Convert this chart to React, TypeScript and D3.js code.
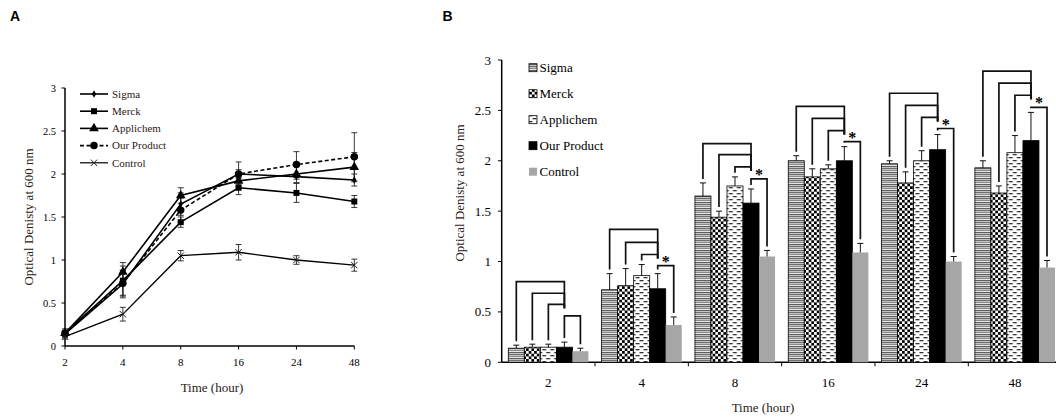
import React from "react";
import * as d3 from "d3";

// time points (hours) and series
const hours = ["2", "4", "8", "16", "24", "48"];
const seriesNames = ["Sigma", "Merck", "Applichem", "Our Product", "Control"];

// mean optical density at 600 nm
const sigma = [0.14, 0.72, 1.65, 2.0, 1.97, 1.93];
const merck = [0.15, 0.76, 1.44, 1.84, 1.78, 1.68];
const applichem = [0.15, 0.86, 1.75, 1.92, 2.0, 2.08];
const ourProduct = [0.15, 0.73, 1.58, 2.0, 2.11, 2.2];
const control = [0.11, 0.37, 1.05, 1.09, 1.0, 0.94];

// standard deviations
const sigmaSd = [0.03, 0.16, 0.13, 0.05, 0.03, 0.07];
const merckSd = [0.03, 0.17, 0.06, 0.08, 0.11, 0.07];
const applichemSd = [0.03, 0.11, 0.09, 0.04, 0.1, 0.17];
const ourProductSd = [0.05, 0.15, 0.14, 0.14, 0.15, 0.28];
const controlSd = [0.03, 0.08, 0.06, 0.09, 0.05, 0.07];

const yTicks = [0, 0.5, 1, 1.5, 2, 2.5, 3];

// significance bracket heights per time point (3 comparisons vs Our Product, then Our Product vs Control)
const bracketLevels = [
  [0.8, 0.685, 0.575, 0.46],
  [1.32, 1.19, 1.07, 0.96],
  [2.17, 2.06, 1.94, 1.82],
  [2.54, 2.42, 2.3, 2.19],
  [2.67, 2.55, 2.43, 2.32],
  [2.89, 2.77, 2.65, 2.53],
];
// Our Product vs Control marked significant (*)
const significant = [false, true, true, true, true, true];

const means = [sigma, merck, applichem, ourProduct, control];
const sds = [sigmaSd, merckSd, applichemSd, ourProductSd, controlSd];

const serif = "'Liberation Serif', 'Times New Roman', serif";
const sans = "'Liberation Sans', Arial, sans-serif";
const textDark = "#2a2016";

function Marker({ kind, x, y }) {
  if (kind === 4) {
    const s = 3.2;
    return (
      <path
        d={`M${x - s},${y - s}L${x + s},${y + s}M${x - s},${y + s}L${x + s},${y - s}`}
        stroke="#222"
        strokeWidth={1}
        fill="none"
      />
    );
  }
  const types = [d3.symbolDiamond, d3.symbolSquare, d3.symbolTriangle, d3.symbolCircle];
  const sizes = [16, 36, 40, 44];
  const p = d3.symbol().type(types[kind]).size(sizes[kind])();
  return <path d={p} transform={`translate(${x},${y})`} fill="#000" />;
}

function PanelA() {
  const x = d3.scalePoint().domain(hours).range([65, 354.3]);
  const y = d3.scaleLinear().domain([0, 3]).range([346, 88]);
  const line = d3
    .line<number>()
    .x((d, i) => x(hours[i]))
    .y((d) => y(d));

  return (
    <g>
      <text x={10} y={21} fontFamily={sans} fontWeight="bold" fontSize={14}>
        A
      </text>

      {/* axes */}
      <line x1={65} x2={65} y1={y(3)} y2={y(0)} stroke="#000" strokeWidth={1.5} />
      <line x1={65} x2={x("48")} y1={y(0)} y2={y(0)} stroke="#000" strokeWidth={1.5} />
      {yTicks.map((t) => (
        <g key={t}>
          <line x1={61.5} x2={65} y1={y(t)} y2={y(t)} stroke="#000" strokeWidth={1} />
          <text
            x={56}
            y={y(t)}
            dy="0.35em"
            textAnchor="end"
            fontFamily={serif}
            fontSize={10.5}
          >
            {t}
          </text>
        </g>
      ))}
      {hours.map((h) => (
        <g key={h}>
          <line x1={x(h)} x2={x(h)} y1={y(0)} y2={y(0) + 3.5} stroke="#000" strokeWidth={1} />
          <text x={x(h)} y={366} textAnchor="middle" fontFamily={serif} fontSize={11}>
            {h}
          </text>
        </g>
      ))}
      <text x={212} y={392} textAnchor="middle" fontFamily={serif} fontSize={13} fill={textDark}>
        Time (hour)
      </text>
      <text
        transform={`translate(28,217) rotate(-90)`}
        textAnchor="middle"
        dy="0.35em"
        fontFamily={serif}
        fontSize={13}
        fill={textDark}
      >
        Optical Denisty at 600 nm
      </text>

      {/* error bars */}
      {means.map((vals, s) =>
        vals.map((v, i) => {
          const cx = x(hours[i]);
          const sd = sds[s][i];
          return (
            <g key={`${s}-${i}`} stroke="#222" strokeWidth={0.9}>
              <line x1={cx} x2={cx} y1={y(v + sd)} y2={y(v - sd)} />
              <line x1={cx - 3} x2={cx + 3} y1={y(v + sd)} y2={y(v + sd)} />
              <line x1={cx - 3} x2={cx + 3} y1={y(v - sd)} y2={y(v - sd)} />
            </g>
          );
        })
      )}

      {/* series lines */}
      {means.map((vals, s) => (
        <path
          key={s}
          d={line(vals)}
          fill="none"
          stroke="#000"
          strokeWidth={s === 4 ? 1.3 : 1.6}
          strokeDasharray={s === 3 ? "4,2.5" : undefined}
        />
      ))}
      {means.map((vals, s) =>
        vals.map((v, i) => <Marker key={`${s}-${i}`} kind={s} x={x(hours[i])} y={y(v)} />)
      )}

      {/* legend */}
      {seriesNames.map((n, s) => {
        const ly = 94 + s * 17.2;
        return (
          <g key={n}>
            <line
              x1={80}
              x2={108}
              y1={ly}
              y2={ly}
              stroke="#000"
              strokeWidth={s === 4 ? 1.2 : 1.6}
              strokeDasharray={s === 3 ? "4,2.5" : undefined}
            />
            <Marker kind={s} x={94} y={ly} />
            <text x={112} y={ly} dy="0.35em" fontFamily={serif} fontSize={11} fill={textDark}>
              {n}
            </text>
          </g>
        );
      })}
    </g>
  );
}

function PanelB() {
  const x0 = d3.scaleBand().domain(hours).range([501.7, 1061.6]);
  const bw = x0.bandwidth();
  const x1 = d3.scaleBand().domain(seriesNames).range([6.6, bw - 6.6]);
  const y = d3.scaleLinear().domain([0, 3]).range([362.3, 60]);
  const fills = ["url(#pSigma)", "url(#pMerck)", "url(#pApplichem)", "#000", "#a6a6a6"];
  const gap = 0.04;

  return (
    <g>
      <defs>
        <pattern id="pSigma" patternUnits="userSpaceOnUse" width={16} height={6}>
          <rect width={16} height={6} fill="#c4c4c4" />
          <rect y={0} width={16} height={1} fill="#6e6e6e" />
          <rect y={2} width={16} height={1} fill="#8a8a8a" />
          <rect y={3} width={16} height={1} fill="#e6e6e6" />
          <rect y={4} width={16} height={1} fill="#5e5e5e" />
        </pattern>
        <pattern id="pMerck" patternUnits="userSpaceOnUse" width={5.4} height={5.4}>
          <rect width={5.4} height={5.4} fill="#fff" />
          <rect width={2.7} height={2.7} fill="#000" />
          <rect x={2.7} y={2.7} width={2.7} height={2.7} fill="#000" />
        </pattern>
        <pattern id="pApplichem" patternUnits="userSpaceOnUse" width={8} height={6}>
          <rect width={8} height={6} fill="#fff" />
          <rect x={0.5} y={1} width={4} height={1.3} fill="#333" />
          <rect x={4.5} y={4} width={4} height={1.3} fill="#333" />
          <rect x={-3.5} y={4} width={4} height={1.3} fill="#333" />
        </pattern>
      </defs>

      <text x={442.5} y={21} fontFamily={sans} fontWeight="bold" fontSize={14}>
        B
      </text>

      {/* axes */}
      <line x1={501.7} x2={501.7} y1={y(3)} y2={y(0)} stroke="#000" strokeWidth={1.5} />
      <line x1={501.7} x2={1061.6} y1={y(0)} y2={y(0)} stroke="#000" strokeWidth={1.5} />
      {yTicks.map((t) => (
        <g key={t}>
          <line x1={498} x2={501.7} y1={y(t)} y2={y(t)} stroke="#000" strokeWidth={1} />
          <text
            x={491}
            y={y(t)}
            dy="0.35em"
            textAnchor="end"
            fontFamily={serif}
            fontSize={13}
          >
            {t}
          </text>
        </g>
      ))}
      {hours.map((h) => (
        <g key={h}>
          <line
            x1={x0(h) + bw}
            x2={x0(h) + bw}
            y1={y(0)}
            y2={y(0) + 4}
            stroke="#000"
            strokeWidth={1}
          />
          <text
            x={x0(h) + bw / 2}
            y={387}
            textAnchor="middle"
            fontFamily={serif}
            fontSize={13}
          >
            {h}
          </text>
        </g>
      ))}
      <text x={763} y={412} textAnchor="middle" fontFamily={serif} fontSize={13} fill={textDark}>
        Time (hour)
      </text>
      <text
        transform={`translate(459,193) rotate(-90)`}
        textAnchor="middle"
        dy="0.35em"
        fontFamily={serif}
        fontSize={13}
        fill={textDark}
      >
        Optical Denisty at 600 nm
      </text>

      {/* bars */}
      {hours.map((h, i) => (
        <g key={h} transform={`translate(${x0(h)},0)`}>
          {seriesNames.map((n, s) => {
            const v = means[s][i];
            return (
              <rect
                key={n}
                x={x1(n)}
                y={y(v)}
                width={x1.bandwidth()}
                height={y(0) - y(v)}
                fill={fills[s]}
                stroke={s === 4 ? "none" : "#000"}
                strokeWidth={0.8}
              />
            );
          })}
          {seriesNames.map((n, s) => {
            const v = means[s][i];
            const top = v + sds[s][i];
            const cx = x1(n) + x1.bandwidth() / 2;
            return (
              <g key={n} stroke="#111" strokeWidth={1}>
                <line x1={cx} x2={cx} y1={y(v)} y2={y(top)} />
                <line x1={cx - 3} x2={cx + 3} y1={y(top)} y2={y(top)} />
              </g>
            );
          })}
        </g>
      ))}

      {/* significance brackets */}
      {hours.map((h, i) => {
        const lv = bracketLevels[i];
        const cx = (s) => x0(h) + x1(seriesNames[s]) + x1.bandwidth() / 2;
        const top = (s) => means[s][i] + sds[s][i] + gap;
        const paths = [0, 1, 2].map(
          (s) =>
            `M${cx(s)},${y(top(s))}V${y(lv[s])}H${cx(3)}V${y(lv[2]) + 4}`
        );
        paths.push(`M${cx(3)},${y(top(3))}V${y(lv[3])}H${cx(4)}V${y(top(4))}`);
        return (
          <g key={h}>
            {paths.map((d, k) => (
              <path key={k} d={d} fill="none" stroke="#111" strokeWidth={1.7} />
            ))}
            {significant[i] && (
              <text
                x={(cx(3) + cx(4)) / 2}
                y={y(lv[3]) + 1}
                textAnchor="middle"
                fontFamily={serif}
                fontSize={16}
                fontWeight="bold"
              >
                *
              </text>
            )}
          </g>
        );
      })}

      {/* legend */}
      {seriesNames.map((n, s) => {
        const ly = 67.7 + s * 26;
        return (
          <g key={n}>
            <rect
              x={529}
              y={ly - 4}
              width={8}
              height={8}
              fill={fills[s]}
              stroke={s === 4 ? "none" : "#000"}
              strokeWidth={0.8}
            />
            <text x={539.5} y={ly} dy="0.35em" fontFamily={serif} fontSize={13}>
              {n}
            </text>
          </g>
        );
      })}
    </g>
  );
}

export default function App() {
  return (
    <svg
      width={1056}
      height={418}
      style={{ position: "absolute", left: 0, top: 0, background: "#fff" }}
    >
      <PanelA />
      <PanelB />
    </svg>
  );
}
